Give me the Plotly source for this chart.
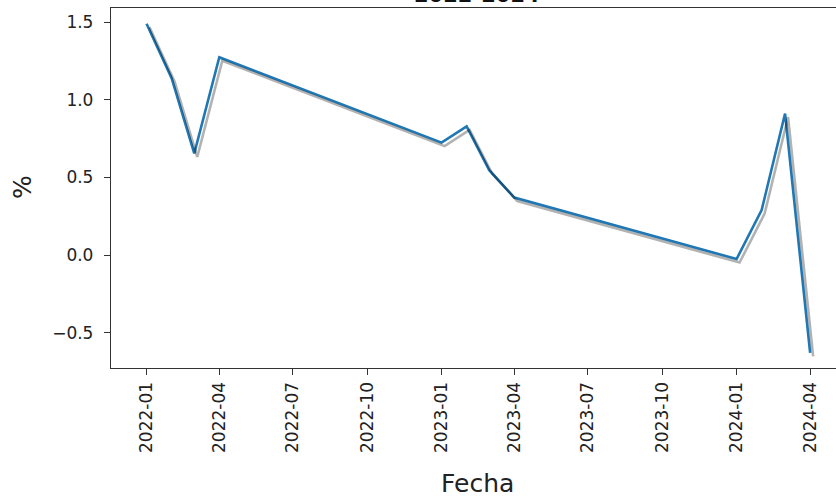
import pandas as pd
import plotly.graph_objects as go

# ---- data ----
fechas = ["2022-01-01", "2022-02-01", "2022-03-01", "2022-04-01",
          "2023-01-01", "2023-02-01", "2023-03-01", "2023-04-01",
          "2024-01-01", "2024-02-01", "2024-03-01", "2024-04-01"]
valores = [1.49, 1.14, 0.655, 1.275, 0.725, 0.83, 0.547, 0.371, -0.025, 0.29, 0.912, -0.63]

x_tickvals = ["2022-01-01", "2022-04-01", "2022-07-01", "2022-10-01", "2023-01-01",
              "2023-04-01", "2023-07-01", "2023-10-01", "2024-01-01", "2024-04-01"]
x_ticktext = ["2022-01", "2022-04", "2022-07", "2022-10", "2023-01",
              "2023-04", "2023-07", "2023-10", "2024-01", "2024-04"]
y_tickvals = [-0.5, 0.0, 0.5, 1.0, 1.5]
y_ticktext = ["\u22120.5", "0.0", "0.5", "1.0", "1.5"]

titulo = "2022-2024"
x_label = "Fecha"
y_label = "%"

# ---- layout geometry ----
W, H = 836, 497
L, T, B, R = 111, 8, 129, 0
plot_w = W - L - R
plot_h = H - T - B

x0 = pd.Timestamp("2021-11-18")
x1 = pd.Timestamp("2024-05-03")
y0, y1 = -0.727, 1.592

# shadow offset in pixels (right, down)
sdx, sdy = 3.0, 3.5
px_per_sec = plot_w / (x1 - x0).total_seconds()
shift_t = pd.Timedelta(seconds=sdx / px_per_sec)
shift_y = sdy * (y1 - y0) / plot_h

FONT = "DejaVu Sans"
TXT = "#222222"
BLUE = "#1f77b4"

fig = go.Figure()
fig.add_trace(go.Scatter(x=fechas, y=valores, mode="lines",
                         line=dict(color="rgba(0,0,0,0.3)", width=2.6),
                         xaxis="x2", yaxis="y2", hoverinfo="skip", showlegend=False))
fig.add_trace(go.Scatter(x=fechas, y=valores, mode="lines",
                         line=dict(color=BLUE, width=2.6), showlegend=False))

fig.update_layout(
    width=W, height=H,
    margin=dict(l=L, r=R, t=T, b=B, pad=0),
    paper_bgcolor="white", plot_bgcolor="white",
    font=dict(family=FONT, color=TXT, size=17),
    xaxis=dict(type="date", range=[x0, x1], tickmode="array",
               tickvals=x_tickvals, ticktext=x_ticktext, tickangle=-90,
               ticks="outside", ticklen=6, tickwidth=1.3, tickcolor="#333",
               showline=True, linecolor="#333", linewidth=1.3, mirror=True,
               showgrid=False, zeroline=False,
               tickfont=dict(family=FONT, size=17, color=TXT)),
    yaxis=dict(range=[y0, y1], tickmode="array",
               tickvals=y_tickvals, ticktext=y_ticktext,
               ticks="outside", ticklen=6, tickwidth=1.3, tickcolor="#333",
               showline=True, linecolor="#333", linewidth=1.3, mirror=False,
               showgrid=False, zeroline=False, ticklabelstandoff=7,
               tickfont=dict(family=FONT, size=17, color=TXT)),
    xaxis2=dict(type="date", overlaying="x",
                range=[x0 - shift_t, x1 - shift_t], visible=False),
    yaxis2=dict(overlaying="y", range=[y0 + shift_y, y1 + shift_y], visible=False),
    annotations=[
        dict(text=f"<b>{titulo}</b>", xref="paper", yref="paper",
             x=(477 - L) / plot_w, y=1.0, xanchor="center", yanchor="bottom",
             showarrow=False, yshift=-1,
             font=dict(family=FONT, size=21, color="#111")),
        dict(text=x_label, xref="paper", yref="paper",
             x=(477 - L) / plot_w, y=-(483 - (T + plot_h)) / plot_h,
             xanchor="center", yanchor="middle", showarrow=False,
             font=dict(family=FONT, size=25, color=TXT)),
        dict(text=y_label, xref="paper", yref="paper",
             x=(22 - L) / plot_w, y=(T + plot_h - 187) / plot_h,
             xanchor="center", yanchor="middle", textangle=-90, showarrow=False,
             font=dict(family=FONT, size=25, color=TXT)),
    ],
)

fig.write_html("out.html")
